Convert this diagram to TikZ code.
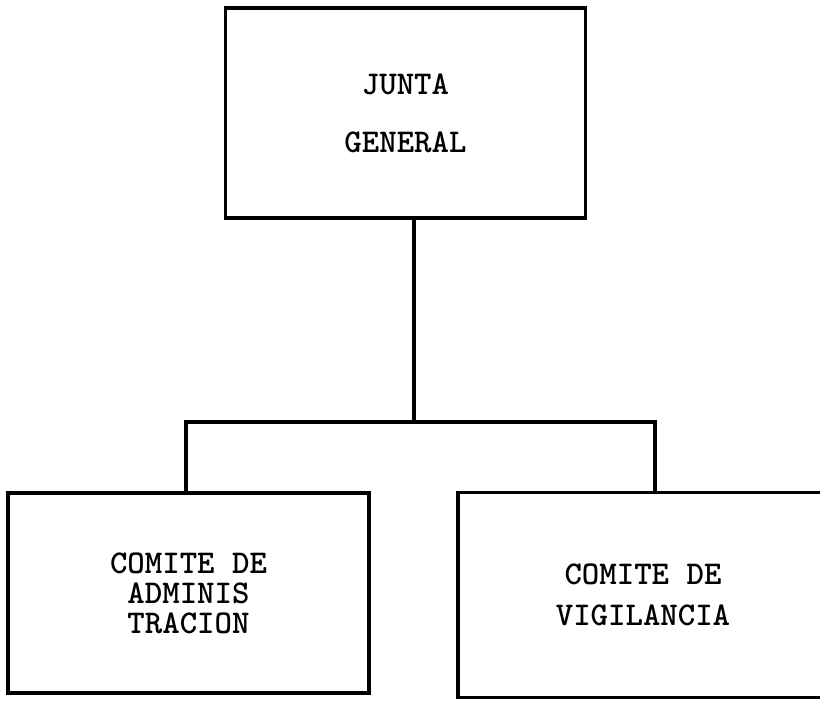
\documentclass[tikz,border=0pt]{standalone}
\usepackage{fontspec}
\usetikzlibrary{positioning}

\begin{document}
\begin{tikzpicture}[
  x=0.5pt, y=-0.5pt,
  box/.style={draw, line width=1.7pt, align=center, inner sep=0pt},
  lnk/.style={line width=1.7pt}
]
\useasboundingbox (0,0) rectangle (820,702);
\clip (0,0) rectangle (820,702);

\node[box, minimum width=180pt, minimum height=105pt,
  font=\ttfamily\bfseries\fontsize{16.6}{29}\selectfont] (jg) at (405.5,113) {JUNTA\\GENERAL};
\node[box, minimum width=180.5pt, minimum height=100pt,
  font=\ttfamily\bfseries\fontsize{16.6}{15}\selectfont] (adm) at (188.5,593) {COMITE DE\\ADMINIS\\TRACION};
\node[box, minimum width=185pt, minimum height=102.5pt,
  font=\ttfamily\bfseries\fontsize{16.6}{20.5}\selectfont] (vig) at (643,595) {COMITE DE\\VIGILANCIA};

\coordinate (bus) at (414,422);
\coordinate (busL) at (186,422);
\coordinate (busR) at (655,422);

\draw[lnk] (jg.south -| bus) -- (bus);
\draw[lnk] (adm.north -| busL) -- (busL) -- (busR) -- (vig.north -| busR);
\end{tikzpicture}
\end{document}
